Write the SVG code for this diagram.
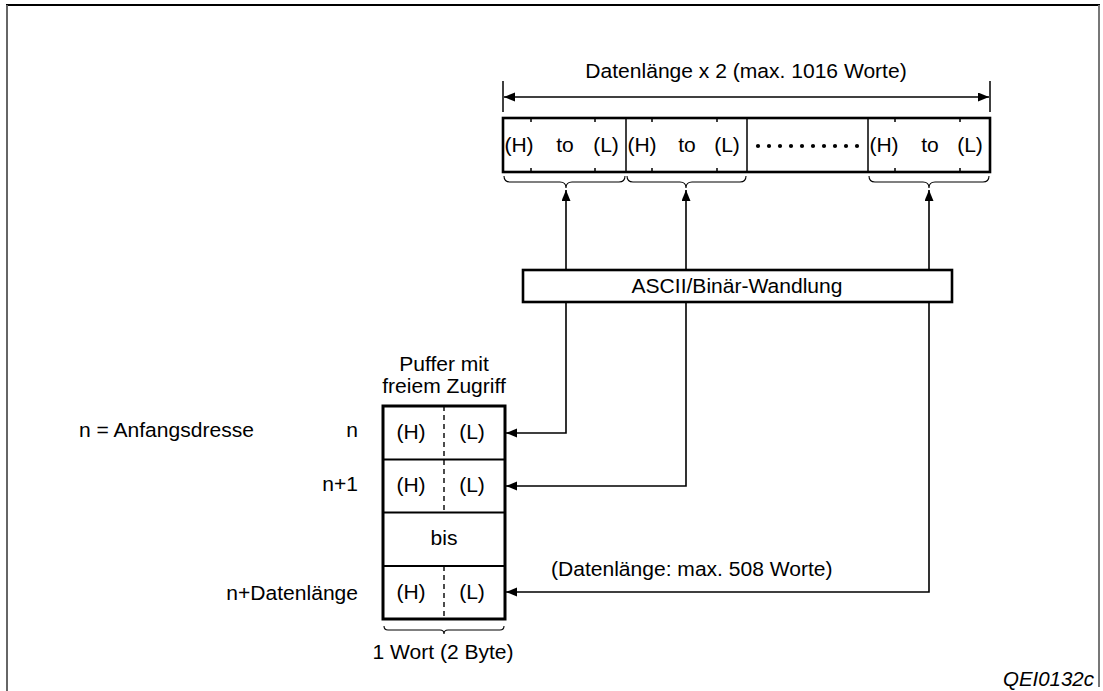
<svg xmlns="http://www.w3.org/2000/svg" width="1103" height="691" viewBox="0 0 1103 691">
<style>
.t{font-family:"Liberation Sans",Arial,Helvetica,sans-serif;font-size:19.5px;fill:#000}
.m{text-anchor:middle}
.e{text-anchor:end}
.box{fill:#fff;stroke:#000;stroke-width:2.6}
.thin{fill:none;stroke:#000;stroke-width:1.5}
.row{fill:none;stroke:#000;stroke-width:2}
.dash{fill:none;stroke:#000;stroke-width:1.4;stroke-dasharray:5 4}
.br{fill:none;stroke:#000;stroke-width:1.1}
.con{fill:none;stroke:#000;stroke-width:1.6}
.fr{fill:none;stroke-width:2}
</style>
<defs>
<marker id="ah" markerUnits="userSpaceOnUse" markerWidth="12" markerHeight="10" refX="11" refY="4.5" orient="auto">
<path d="M0,0 L11,4.5 L0,9 z" fill="#000"/>
</marker>
</defs>
<rect width="1103" height="691" fill="#fff"/>
<g id="frame">
<line class="fr" x1="6" y1="5" x2="1100" y2="5" stroke="#000"/>
<line class="fr" x1="7" y1="5" x2="7" y2="691" stroke="#666" stroke-width="2.5"/>
<line class="fr" x1="1099" y1="5" x2="1099" y2="687" stroke="#777" stroke-width="1.5"/>
</g>
<g id="dimension">
<text class="t m" transform="translate(746,78) scale(1.08,1)">Datenlänge x 2 (max. 1016 Worte)</text>
<line class="thin" x1="503" y1="81" x2="503" y2="112"/>
<line class="thin" x1="990" y1="81" x2="990" y2="112"/>
<line class="con" x1="746" y1="97" x2="504" y2="97" marker-end="url(#ah)"/>
<line class="con" x1="746" y1="97" x2="989" y2="97" marker-end="url(#ah)"/>
</g>
<g id="ascii-string">
<rect class="box" x="503" y="118" width="487" height="54"/>
<line class="thin" x1="626" y1="118" x2="626" y2="172"/>
<line class="thin" x1="747" y1="118" x2="747" y2="172"/>
<line class="thin" x1="868" y1="118" x2="868" y2="172"/>
<path class="thin" d="M531,118v4M595,118v4M652,118v4M717,118v4M895,118v4M960,118v4M531,172v-4M595,172v-4M652,172v-4M717,172v-4M895,172v-4M960,172v-4"/>
<text class="t m" transform="translate(519,152) scale(1.08,1)">(H)</text>
<text class="t m" transform="translate(565,152) scale(1.08,1)">to</text>
<text class="t m" transform="translate(606,152) scale(1.08,1)">(L)</text>
<text class="t m" transform="translate(642,152) scale(1.08,1)">(H)</text>
<text class="t m" transform="translate(687,152) scale(1.08,1)">to</text>
<text class="t m" transform="translate(727,152) scale(1.08,1)">(L)</text>
<text class="t m" transform="translate(884,152) scale(1.08,1)">(H)</text>
<text class="t m" transform="translate(930,152) scale(1.08,1)">to</text>
<text class="t m" transform="translate(970,152) scale(1.08,1)">(L)</text>
<g fill="#000">
<circle cx="758" cy="146" r="2.1"/><circle cx="769" cy="146" r="2.1"/><circle cx="780" cy="146" r="2.1"/><circle cx="791" cy="146" r="2.1"/><circle cx="802" cy="146" r="2.1"/><circle cx="813" cy="146" r="2.1"/><circle cx="824" cy="146" r="2.1"/><circle cx="835" cy="146" r="2.1"/><circle cx="846" cy="146" r="2.1"/><circle cx="857" cy="146" r="2.1"/>
</g>
<path class="br" d="M504,176 q0,6 6,6 L560,182 q6,0 6,6 q0,-6 6,-6 L619,182 q6,0 6,-6"/>
<path class="br" d="M627,176 q0,6 6,6 L680,182 q6,0 6,6 q0,-6 6,-6 L740,182 q6,0 6,-6"/>
<path class="br" d="M869,176 q0,6 6,6 L923,182 q6,0 6,6 q0,-6 6,-6 L983,182 q6,0 6,-6"/>
</g>
<g id="ascii-binaer">
<rect class="box" x="523" y="270" width="429" height="32"/>
<text class="t m" transform="translate(737,293) scale(1.08,1)">ASCII/Binär-Wandlung</text>
</g>
<g id="puffer">
<text class="t m" transform="translate(444,371) scale(1.08,1)">Puffer mit</text>
<text class="t m" transform="translate(444,393) scale(1.08,1)">freiem Zugriff</text>
<line class="row" x1="383" y1="459.5" x2="505" y2="459.5"/>
<line class="row" x1="383" y1="512.5" x2="505" y2="512.5"/>
<line class="row" x1="383" y1="566" x2="505" y2="566"/>
<line class="dash" x1="444" y1="406" x2="444" y2="459"/>
<line class="dash" x1="444" y1="460" x2="444" y2="512"/>
<line class="dash" x1="444" y1="566" x2="444" y2="619"/>
<rect x="383" y="406" width="122" height="213" fill="none" stroke="#000" stroke-width="3"/>
<text class="t m" transform="translate(411,439) scale(1.08,1)">(H)</text>
<text class="t m" transform="translate(472,439) scale(1.08,1)">(L)</text>
<text class="t m" transform="translate(411,492) scale(1.08,1)">(H)</text>
<text class="t m" transform="translate(472,492) scale(1.08,1)">(L)</text>
<text class="t m" transform="translate(444,545) scale(1.08,1)">bis</text>
<text class="t m" transform="translate(411,599) scale(1.08,1)">(H)</text>
<text class="t m" transform="translate(472,599) scale(1.08,1)">(L)</text>
<path class="br" d="M384,626 q0,4 4,4 L440,630 q4,0 4,4 q0,-4 4,-4 L500,630 q4,0 4,-4"/>
<text class="t m" transform="translate(443,659) scale(1.08,1)">1 Wort (2 Byte)</text>
</g>
<g id="labels">
<text class="t" transform="translate(79,437) scale(1.08,1)">n = Anfangsdresse</text>
<text class="t e" transform="translate(358,437) scale(1.08,1)">n</text>
<text class="t e" transform="translate(358,491) scale(1.08,1)">n+1</text>
<text class="t e" transform="translate(358,600) scale(1.08,1)">n+Datenlänge</text>
<text class="t" transform="translate(551,576) scale(1.08,1)">(Datenlänge: max. 508 Worte)</text>
<text class="t e" font-style="italic" font-size="14.5px" transform="translate(1094,686) scale(1.05,1)">QEI0132c</text>
</g>
<g id="connectors">
<line class="con" x1="566" y1="270" x2="566" y2="190" marker-end="url(#ah)"/>
<line class="con" x1="686" y1="270" x2="686" y2="190" marker-end="url(#ah)"/>
<line class="con" x1="929" y1="270" x2="929" y2="190" marker-end="url(#ah)"/>
<polyline class="con" points="566,302 566,433 506,433" marker-end="url(#ah)"/>
<polyline class="con" points="686,302 686,486 506,486" marker-end="url(#ah)"/>
<polyline class="con" points="929,302 929,592 506,592" marker-end="url(#ah)"/>
</g>
</svg>
